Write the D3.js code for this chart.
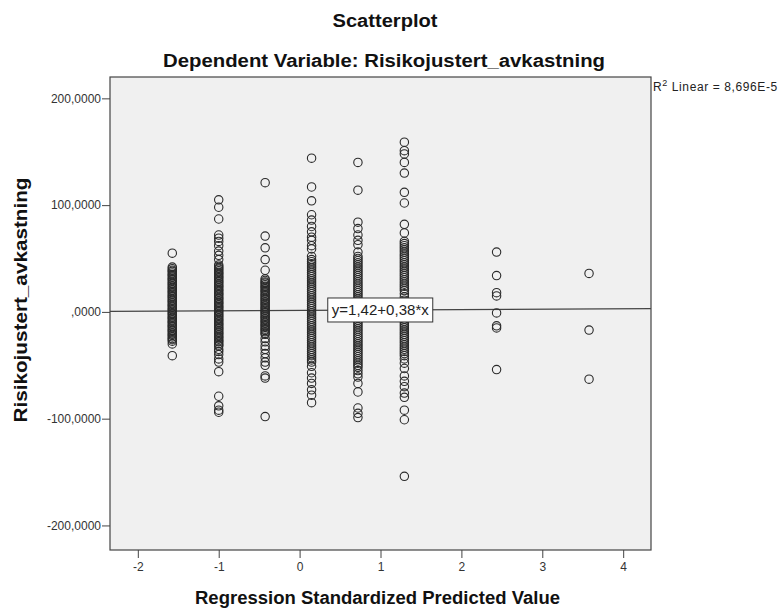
<!DOCTYPE html>
<html>
<head>
<meta charset="utf-8">
<script src="https://cdn.jsdelivr.net/npm/d3@7"></script>
<style>
  html, body { margin: 0; padding: 0; background: #ffffff; }
  svg { display: block; font-family: "Liberation Sans", Arial, sans-serif; }
</style>
</head>
<body>
<svg id="chart" width="782" height="612"></svg>
<script>
// ---------- data ----------
const xCategories = [-1.574, -1.000, -0.426, 0.148, 0.721, 1.295, 2.435, 3.578];
const yCol1 = [55, 42, 40.5, 39, 38, 36.5, 35, 34, 32.5, 31, 30, 28.5, 27, 26, 24.5, 23, 22, 20.5, 19, 18, 16.5, 15, 14, 12.5, 11, 10, 8.5, 7, 6, 4.5, 3, 2, 0.5, -1, -2, -3.5, -5, -6, -7.5, -9, -10, -11.5, -13, -14, -15.5, -17, -18, -19.5, -21, -22, -23.5, -25, -26, -27.5, -30, -41];
const yCol2 = [105, 98, 87, 72, 69, 66, 62, 57, 53, 49, 44, 42.5, 41, 40, 38.5, 37, 36, 34.5, 33, 32, 30.5, 29, 28, 26.5, 25, 24, 22.5, 21, 20, 18.5, 17, 16, 14.5, 13, 12, 10.5, 9, 8, 6.5, 5, 4, 2.5, 1, 0, -1.5, -3, -4, -5.5, -7, -8, -9.5, -11, -12, -13.5, -15, -16, -17.5, -19, -20, -21.5, -23, -24, -25.5, -27, -28, -29.5, -31, -32, -35, -37, -40, -44, -47, -56, -79, -88, -92, -94];
const yCol3 = [121, 71, 60, 49, 39, 31, 29.5, 28, 27, 25.5, 24, 23, 21.5, 20, 19, 17.5, 16, 15, 13.5, 12, 11, 9.5, 8, 7, 5.5, 4, 3, 1.5, 0, -1, -2.5, -4, -5, -6.5, -8, -9, -10.5, -12, -13, -14.5, -16, -17, -18.5, -20, -21, -25, -28, -32, -35, -39, -43, -47, -50, -60, -62, -98];
const yCol4 = [144, 117, 104, 91, 86, 80, 75, 70, 67, 62, 59, 52, 49, 47, 45, 43, 41, 39, 37, 35, 33, 31, 29, 27, 25, 23, 21, 19, 17, 15, 13, 11, 9, 7, 5, 3, 1, -1, -3, -5, -7, -9, -11, -13, -15, -17, -19, -21, -23, -25, -27, -29, -31, -33, -35, -37, -39, -41, -43, -45, -47, -51, -57, -62, -67, -73, -78, -85];
const yCol5 = [140, 114, 84, 78, 72, 67, 63, 56, 52, 50, 48, 46, 44, 42, 40, 38, 36, 34, 32, 30, 28, 26, 24, 22, 20, 18, 16, 14, 12, 10, 8, 6, 4, 2, 0, -2, -4, -6, -8, -10, -12, -14, -16, -18, -20, -22, -24, -26, -28, -30, -32, -34, -36, -38, -40, -42, -44, -46, -48, -50, -52, -55, -58, -61, -67, -75, -90, -95, -99];
const yCol6 = [159, 151, 148, 140, 130, 112, 102, 82, 74, 66, 64, 62, 60, 58, 56, 54, 52, 50, 48, 46, 44, 42, 40, 38, 36, 34, 32, 30, 28, 26, 24, 22, 20, 17, 14, 11, 9, 7, 5, 3, 1, -1, -3, -5, -7, -9, -11, -13, -15, -17, -19, -21, -23, -25, -27, -29, -31, -33, -35, -37, -39, -41, -44, -48, -53, -60, -65, -70, -76, -80, -92, -101, -154];
const yCol7 = [56, 34, 18, 15, -1, -13, -15, -54];
const yCol8 = [36, -17, -63];
const yColumns = [yCol1, yCol2, yCol3, yCol4, yCol5, yCol6, yCol7, yCol8];

const xTicks = [-2, -1, 0, 1, 2, 3, 4];
const xTickLabels = ["-2", "-1", "0", "1", "2", "3", "4"];
const yTicks = [-200, -100, 0, 100, 200];
const yTickLabels = ["-200,0000", "-100,0000", ",0000", "100,0000", "200,0000"];

const fitIntercept = 1.42;
const fitSlope = 0.38;
const fitLabel = "y=1,42+0,38*x";
const r2Label = "Linear = 8,696E-5";

const titleText = "Scatterplot";
const subtitleText = "Dependent Variable: Risikojustert_avkastning";
const xTitle = "Regression Standardized Predicted Value";
const yTitle = "Risikojustert_avkastning";

// ---------- layout ----------
const plot = { left: 110, top: 77, right: 651, bottom: 550 };
const svg = d3.select("#chart");

const x = d3.scaleLinear()
  .domain([-2.344, 4.344])
  .range([plot.left, plot.right]);
const y = d3.scaleLinear()
  .domain([-223, 220])
  .range([plot.bottom, plot.top]);

// background frame
svg.append("rect")
  .attr("x", plot.left).attr("y", plot.top)
  .attr("width", plot.right - plot.left).attr("height", plot.bottom - plot.top)
  .attr("fill", "#f0f0f0").attr("stroke", "#444").attr("stroke-width", 1.2);

// axes
const xAxis = d3.axisBottom(x).tickValues(xTicks).tickSize(8).tickPadding(4)
  .tickFormat((d, i) => xTickLabels[i]);
const gx = svg.append("g").attr("transform", `translate(0,${plot.bottom})`).call(xAxis);
gx.select(".domain").remove();
gx.selectAll("line").attr("stroke", "#444");
gx.selectAll("text").attr("font-size", 12).attr("fill", "#333")
  .attr("font-family", "Liberation Sans, Arial, sans-serif");

const yAxis = d3.axisLeft(y).tickValues(yTicks).tickSize(8).tickPadding(1)
  .tickFormat((d, i) => yTickLabels[i]);
const gy = svg.append("g").attr("transform", `translate(${plot.left},0)`).call(yAxis);
gy.select(".domain").remove();
gy.selectAll("line").attr("stroke", "#444");
gy.selectAll("text").attr("font-size", 12).attr("fill", "#333")
  .attr("font-family", "Liberation Sans, Arial, sans-serif");

// fit line
const [x0, x1] = x.domain();
svg.append("line")
  .attr("x1", x(x0)).attr("y1", y(fitIntercept + fitSlope * x0))
  .attr("x2", x(x1)).attr("y2", y(fitIntercept + fitSlope * x1))
  .attr("stroke", "#444").attr("stroke-width", 1.2);

// points
const points = [];
yColumns.forEach((col, i) => col.forEach(v => points.push({ x: xCategories[i], y: v })));
svg.append("g").selectAll("circle").data(points).join("circle")
  .attr("cx", d => x(d.x)).attr("cy", d => y(d.y)).attr("r", 4.2)
  .attr("fill", "none").attr("stroke", "#2a2a2a").attr("stroke-width", 1.1);

// fit label box
const boxX = x(0.348), boxW = 105, boxH = 24;
const boxCy = y(fitIntercept + fitSlope * 0.99);
svg.append("rect")
  .attr("x", boxX).attr("y", boxCy - boxH / 2)
  .attr("width", boxW).attr("height", boxH)
  .attr("fill", "#ffffff").attr("stroke", "#333").attr("stroke-width", 1);
svg.append("text")
  .attr("x", boxX + boxW / 2).attr("y", boxCy + 5)
  .attr("text-anchor", "middle").attr("font-size", 14).attr("fill", "#222")
  .attr("textLength", 97).attr("lengthAdjust", "spacingAndGlyphs")
  .text(fitLabel);

// R2 label
const r2 = svg.append("text").attr("x", plot.right + 2).attr("y", 91)
  .attr("font-size", 12).attr("fill", "#222").attr("letter-spacing", 0.6);
r2.append("tspan").text("R");
r2.append("tspan").attr("dy", -5).attr("font-size", 9).text("2");
r2.append("tspan").attr("dy", 5).text(" " + r2Label);

// titles
function title(txt, cx, cy, len, rotate) {
  const t = svg.append("text")
    .attr("text-anchor", "middle")
    .attr("font-size", 18).attr("font-weight", "bold").attr("fill", "#111")
    .attr("textLength", len).attr("lengthAdjust", "spacingAndGlyphs")
    .text(txt);
  if (rotate) t.attr("transform", `translate(${cx},${cy}) rotate(-90)`);
  else t.attr("x", cx).attr("y", cy);
}
title(titleText, 385, 27, 105);
title(subtitleText, 384, 67, 442);
title(xTitle, 377.5, 604, 365);
title(yTitle, 27, 300, 245, true);
</script>
</body>
</html>
